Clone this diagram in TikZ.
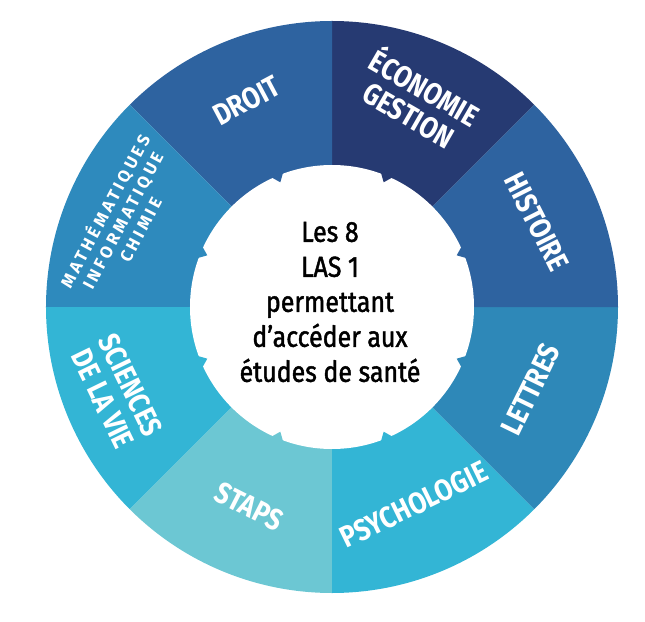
\documentclass[tikz,border=0pt]{standalone}
\usepackage{fontspec}
\setmainfont{Fira Sans}
\definecolor{cdroit}{HTML}{2E63A0}
\definecolor{ceco}{HTML}{263A72}
\definecolor{chist}{HTML}{2E63A0}
\definecolor{clet}{HTML}{2E88B8}
\definecolor{cpsy}{HTML}{33B5D5}
\definecolor{cstaps}{HTML}{6CC7D3}
\definecolor{csci}{HTML}{33B5D5}
\definecolor{cmath}{HTML}{2E8ABD}
\begin{document}
\begin{tikzpicture}[x=1pt,y=1pt,
  lab/.style={text=white,font=\bfseries\fontsize{30}{31}\selectfont\addfontfeature{FakeStretch=0.85},align=center,inner sep=0pt},
  mathlab/.style={text=white,font=\bfseries\fontsize{17}{20}\selectfont\addfontfeature{LetterSpace=20},align=center,inner sep=0pt},
  centretext/.style={text=black,font=\fontsize{29}{35}\selectfont\addfontfeature{FakeStretch=0.86,FakeBold=1.5},align=center,inner sep=0pt}]
\useasboundingbox (-332,-314) rectangle (313,307);
\foreach \a/\c in {45/ceco,90/cdroit,135/cmath,180/csci,225/cstaps,270/cpsy,315/clet,0/chist}{
  \fill[\c] (0,0) -- (\a:286) arc[start angle=\a, end angle=\a+45, radius=286] -- cycle;
}
\fill[white] (0,0) circle[radius=142];
\foreach \a/\c in {67.5/ceco,112.5/cdroit,157.5/cmath,202.5/csci,247.5/cstaps,292.5/cpsy,337.5/clet,22.5/chist}{
  \fill[\c] (\a-2.5:143) -- (\a+2.5:143) -- (\a:135) -- cycle;
}
\node[lab, rotate=28] (droit) at (112.5:223) {DROIT};
\node[lab, rotate=-30] (eco) at (67.5:225) {ÉCONOMIE\\GESTION};
\node[lab, rotate=-63] (hist) at (22.5:222) {HISTOIRE};
\node[lab, rotate=64] (let) at (-22.5:215) {LETTRES};
\node[lab, rotate=26] (psy) at (-67.5:214) {PSYCHOLOGIE};
\node[lab, rotate=-27] (staps) at (-112.5:216) {STAPS};
\node[lab, rotate=-64] (sci) at (-215,-85) {SCIENCES\\DE LA VIE};
\node[mathlab, rotate=62] (math) at (157.5:228) {MATHÉMATIQUES\\INFORMATIQUE\\CHIMIE};
\node[centretext] (centre) at (-2,5) {Les 8\\LAS 1\\permettant\\d’accéder aux\\études de santé};
\end{tikzpicture}
\end{document}
